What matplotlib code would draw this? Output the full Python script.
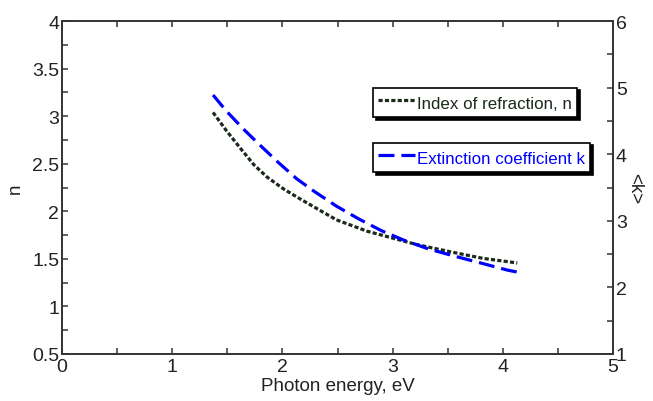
import numpy as np
import matplotlib
matplotlib.use("Agg")
import matplotlib.pyplot as plt
import matplotlib.transforms as mtransforms
from matplotlib.ticker import MultipleLocator, FuncFormatter

# data
energy_n = [1.37, 1.49, 1.62, 1.74, 1.86, 2.01, 2.16, 2.28, 2.49, 2.77,
            3.22, 3.52, 3.82, 4.13]
n_vals = [3.04, 2.85, 2.66, 2.49, 2.36, 2.235, 2.13, 2.05, 1.91, 1.79,
          1.65, 1.575, 1.505, 1.457]

energy_k = [1.37, 1.49, 1.645, 1.80, 1.96, 2.13, 2.29, 2.49, 2.69, 2.90,
            3.10, 3.32, 3.56, 3.79, 4.04, 4.13]
k_vals = [4.89, 4.65, 4.38, 4.13, 3.88, 3.63, 3.44, 3.22, 3.03, 2.85,
          2.71, 2.58, 2.47, 2.37, 2.26, 2.23]

label_n = "Index of refraction, n"
label_k = "Extinction coefficient k"

plt.rcParams['font.family'] = ['Liberation Sans', 'DejaVu Sans']
plt.rcParams['lines.scale_dashes'] = False

col_n = "#1b2a1b"
col_k = "#0000ff"
col_ax = "#333333"
col_txt = "#222222"

fig = plt.figure(figsize=(6.53, 4.02), dpi=100)
ax = fig.add_axes([0.095, 0.117, 0.844, 0.828])
ax2 = ax.twinx()

ln_n, = ax.plot(energy_n, n_vals, color=col_n, lw=2.3, dashes=(3, 1.6))
ln_k, = ax2.plot(energy_k, k_vals, color=col_k, lw=2.3, dashes=(11.5, 5))

ax.set_xlim(0, 5)
ax.set_ylim(0.5, 4)
ax2.set_ylim(1, 6)

fmt = FuncFormatter(lambda v, p: "%g" % v)
ax.xaxis.set_major_locator(MultipleLocator(1))
ax.xaxis.set_minor_locator(MultipleLocator(0.5))
ax.yaxis.set_major_locator(MultipleLocator(0.5))
ax.yaxis.set_minor_locator(MultipleLocator(0.25))
ax2.yaxis.set_major_locator(MultipleLocator(1))
ax2.yaxis.set_minor_locator(MultipleLocator(0.5))
ax.xaxis.set_major_formatter(fmt)
ax.yaxis.set_major_formatter(fmt)
ax2.yaxis.set_major_formatter(fmt)

for a in (ax, ax2):
    for s in a.spines.values():
        s.set_linewidth(1.2)
        s.set_color(col_ax)

ax.tick_params(which='both', direction='in', top=True, right=False,
               labelsize=14, width=1.1, color=col_ax, length=4, pad=2,
               labelcolor=col_txt)
ax.tick_params(axis='x', pad=3)
ax2.tick_params(which='both', direction='in', labelsize=14, width=1.1,
                color=col_ax, pad=2, length=4, labelcolor=col_txt)

# lift the lowest y tick labels a little, like the reference
lift = mtransforms.ScaledTranslation(0, 3 / 72, fig.dpi_scale_trans)
for a in (ax, ax2):
    fig.canvas.draw()
    lab = a.yaxis.get_majorticklabels()[0]
    lab.set_transform(lab.get_transform() + lift)

ax.set_xlabel("Photon energy, eV", fontsize=13.5, labelpad=1, color=col_txt)
ax.set_ylabel("n", fontsize=13.5, labelpad=6, color=col_txt)
ax2.set_ylabel("<k>", fontsize=13.5, rotation=270, labelpad=12, color=col_txt)

shadow = {'color': 'black', 'alpha': 1}
leg_kw = dict(loc='upper left', borderaxespad=0, fancybox=False, framealpha=1,
              edgecolor='black', shadow=shadow, fontsize=12.2, handlelength=2.2,
              handleheight=1.4, handletextpad=0.1, borderpad=0.3)

leg1 = ax2.legend([ln_n], [label_n], bbox_to_anchor=(0.564, 0.80), **leg_kw)
leg1.get_frame().set_linewidth(1.2)
leg1.get_texts()[0].set_color(col_n)
ax2.add_artist(leg1)

leg2 = ax2.legend([ln_k], [label_k], bbox_to_anchor=(0.564, 0.635), **leg_kw)
leg2.get_frame().set_linewidth(1.2)
leg2.get_texts()[0].set_color(col_k)

fig.savefig("out.png", dpi=100)
